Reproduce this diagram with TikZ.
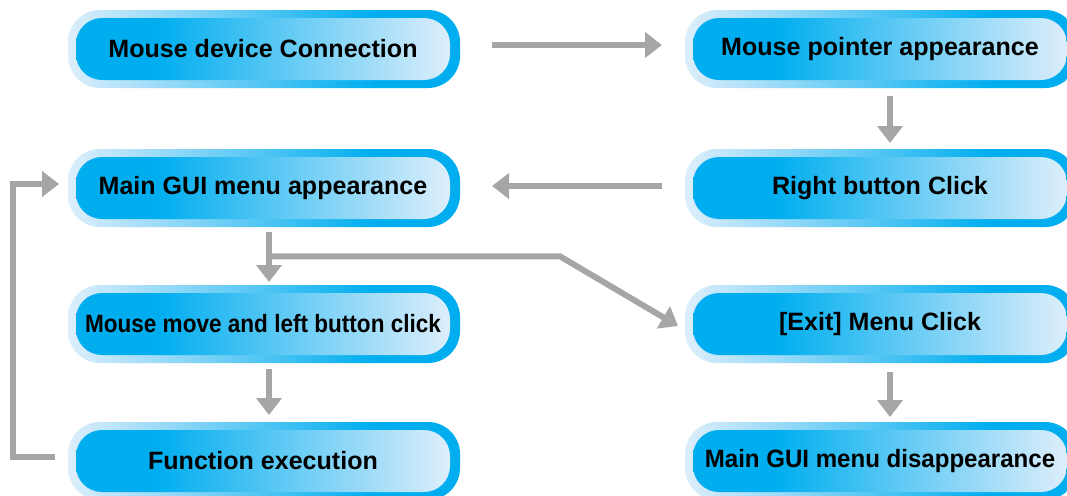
\documentclass[tikz,border=0pt]{standalone}
\usepackage{fontspec}
\setmainfont{Liberation Sans}
\usetikzlibrary{arrows.meta}

\definecolor{boxblue}{RGB}{0,174,239}
\definecolor{boxlight}{RGB}{221,238,251}
\definecolor{flowgray}{RGB}{166,166,166}

\pgfdeclarehorizontalshading{innershade}{100bp}{color(0bp)=(boxblue); color(36bp)=(boxblue); color(75bp)=(boxlight); color(100bp)=(boxlight)}
\pgfdeclarehorizontalshading{outershade}{100bp}{color(0bp)=(boxlight); color(25bp)=(boxlight); color(64bp)=(boxblue); color(100bp)=(boxblue)}

\tikzset{every picture/.style={line width=0.75pt},
  outbox/.style={rounded corners=24pt, minimum width=294pt, minimum height=58.5pt, inner sep=0pt, outer sep=0pt, shade, shading=outershade},
  inbox/.style={rounded corners=19.5pt, minimum width=280.5pt, minimum height=46.5pt, inner sep=0pt, outer sep=0pt, shade, shading=innershade, font=\fontsize{18.8}{22}\selectfont\bfseries},
  flow/.style={draw=flowgray, line width=4.5pt, -{Triangle[width=18.75pt,length=12.75pt]}}}

\begin{document}
\begin{tikzpicture}[x=0.75pt,y=0.75pt,yscale=-1,xscale=1]
\useasboundingbox (0,0) rectangle (1067,496);
\clip (0,0) rectangle (1067,496);

%Shape: Box [id:conn] 
\node [outbox] (conn) at (264,49) {};
\node [inbox] (conn-in) at (263,49) {Mouse device Connection};
%Shape: Box [id:pointer] 
\node [outbox] (pointer) at (881,49) {};
\node [inbox] (pointer-in) at (880,49) {Mouse pointer appearance};
%Shape: Box [id:gui] 
\node [outbox] (gui) at (264,188) {};
\node [inbox] (gui-in) at (263,188) {Main GUI menu appearance};
%Shape: Box [id:rclick] 
\node [outbox] (rclick) at (881,188) {};
\node [inbox] (rclick-in) at (880,188) {Right button Click};
%Shape: Box [id:move] 
\node [outbox] (move) at (264,324) {};
\node [inbox] (move-in) at (263,324) {\scalebox{0.9}[1]{Mouse move and left button click}};
%Shape: Box [id:exit] 
\node [outbox] (exit) at (881,324) {};
\node [inbox] (exit-in) at (880,324) {[Exit] Menu Click};
%Shape: Box [id:func] 
\node [outbox] (func) at (264,461) {};
\node [inbox] (func-in) at (263,461) {Function execution};
%Shape: Box [id:disapp] 
\node [outbox] (disapp) at (881,461) {};
\node [inbox] (disapp-in) at (880,461) {\scalebox{0.96}[1]{Main GUI menu disappearance}};

%Straight Lines [id:conn-pointer] 
\draw [flow] ([xshift=24pt,yshift=-3pt]conn.east) -- ([xshift=-17.25pt,yshift=-3pt]pointer.west);
%Straight Lines [id:pointer-rclick] 
\draw [flow] ([xshift=6.75pt,yshift=6pt]pointer.south) -- ([xshift=6.75pt,yshift=-4.5pt]rclick.north);
%Straight Lines [id:rclick-gui] 
\draw [flow] ([xshift=-17.25pt,yshift=-1.5pt]rclick.west) -- ([xshift=24pt,yshift=-1.5pt]gui.east);
%Straight Lines [id:gui-move] 
\draw [flow] ([xshift=3.75pt,yshift=3.75pt]gui.south) -- ([xshift=3.75pt,yshift=-2.25pt]move.north);
%Straight Lines [id:gui-exit] 
\draw [flow] ([xshift=3.75pt,yshift=22pt]gui.south) -- ++(218.25pt,0) -- ([xshift=-5.25pt,yshift=1.5pt]exit.west);
%Straight Lines [id:move-func] 
\draw [flow] ([xshift=3.75pt,yshift=4.5pt]move.south) -- ([xshift=3.75pt,yshift=-5.25pt]func.north);
%Straight Lines [id:exit-disapp] 
\draw [flow] ([xshift=6.75pt,yshift=6.75pt]exit.south) -- ([xshift=6.75pt,yshift=-3.75pt]disapp.north);
%Straight Lines [id:func-gui] 
\draw [flow] ([xshift=-9.75pt,yshift=-3pt]func.west) -- ++(-31.5pt,0) |- ([xshift=-6.75pt,yshift=-3pt]gui.west);

\end{tikzpicture}
\end{document}
